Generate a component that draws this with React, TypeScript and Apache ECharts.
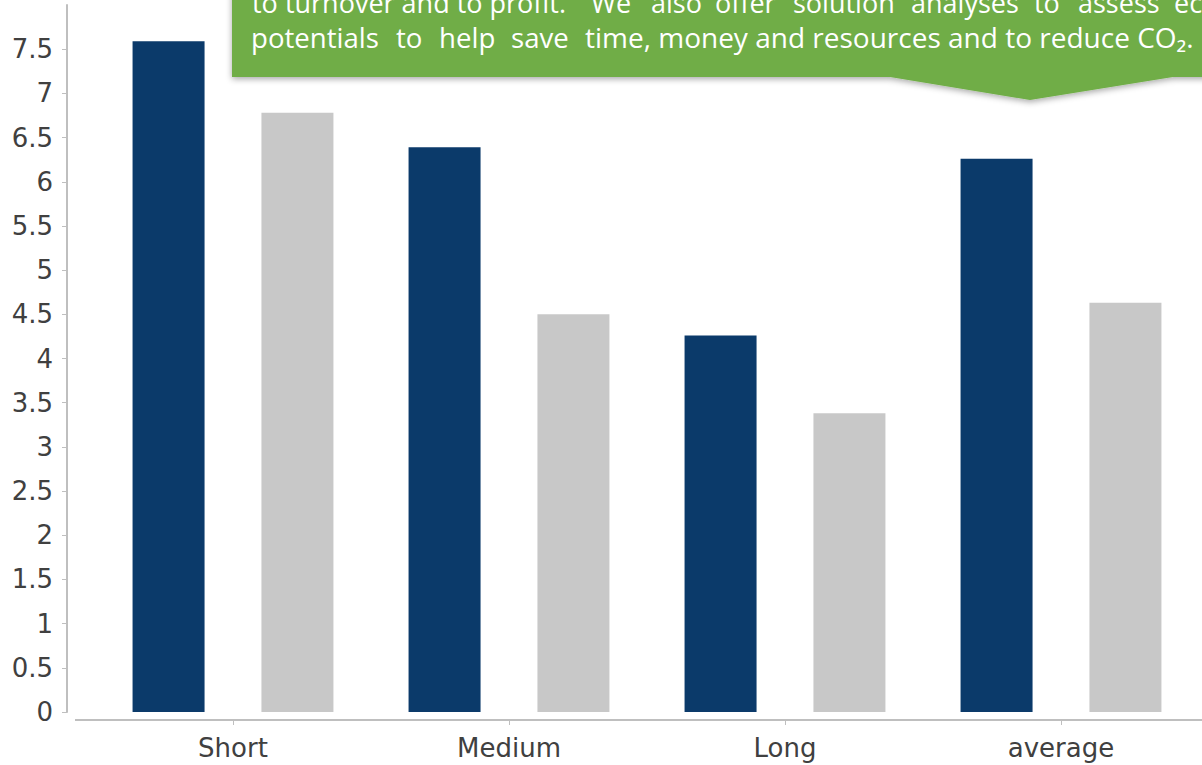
import React, { useEffect, useRef } from "react";
import * as echarts from "echarts";

const categories = ["Short", "Medium", "Long", "average"];
const seriesDark = [7.59, 6.39, 4.26, 6.26];
const seriesGray = [6.78, 4.5, 3.38, 4.63];
const yTicks = [0, 0.5, 1, 1.5, 2, 2.5, 3, 3.5, 4, 4.5, 5, 5.5, 6, 6.5, 7, 7.5];

const line1Words: [string, number][] = [
  ["to turnover and to profit.", 252],
  ["We", 591], ["also", 651], ["offer", 715], ["solution", 793],
  ["analyses", 911], ["to", 1034], ["assess", 1078], ["economic", 1174],
];
const line2Words: [string, number][] = [
  ["potentials", 251], ["to", 396], ["help", 439], ["save", 511],
  ["time, money and resources and to reduce CO₂.", 585],
];

export default function App() {
  const ref = useRef<HTMLDivElement>(null);
  useEffect(() => {
    if (!ref.current) return;
    const chart = echarts.init(ref.current, undefined, { renderer: "svg" });
    const axisColor = "#bfbfbf";
    const labelColor = "#404040";
    const font = "DejaVu Sans";
    const textEls: any[] = [];
    const mk = (words: [string, number][], y: number, size: number) =>
      words.forEach(([t, x], i) =>
        textEls.push({
          type: "text",
          x,
          y,
          z: 102,
          style: {
            text: t,
            fill: "#ffffff",
            fontSize: i === words.length - 1 && words === line2Words ? 28 : size,
            fontFamily: "Open Sans",
            align: "left",
            verticalAlign: "middle",
          },
        })
      );
    mk(line1Words, 2, 27);
    mk(line2Words, 37, 27.6);
    chart.setOption({
      animation: false,
      backgroundColor: "#ffffff",
      grid: { left: 95, right: 3, top: 5, bottom: 53, containLabel: false },
      xAxis: {
        type: "category",
        data: categories,
        offset: 8,
        axisLine: { show: true, onZero: false, lineStyle: { color: axisColor, width: 2 } },
        axisTick: { show: true, alignWithLabel: true, length: 5, lineStyle: { color: axisColor, width: 1 } },
        axisLabel: { fontSize: 26, fontFamily: font, color: labelColor, margin: 15 },
        splitLine: { show: false },
      },
      yAxis: {
        type: "value",
        min: 0,
        max: 8,
        interval: 0.5,
        offset: 28,
        axisLine: { show: true, lineStyle: { color: axisColor, width: 2 } },
        axisTick: { show: true, length: 5, customValues: yTicks, lineStyle: { color: axisColor, width: 1 } },
        axisLabel: { fontSize: 26, fontFamily: font, color: labelColor, margin: 14, customValues: yTicks },
        splitLine: { show: false },
      },
      series: [
        {
          name: "Series 1",
          type: "bar",
          data: seriesDark,
          barWidth: 72,
          barGap: "79%",
          itemStyle: { color: "#0b3a6a" },
        },
        {
          name: "Series 2",
          type: "bar",
          data: seriesGray,
          barWidth: 72,
          itemStyle: { color: "#c8c8c8" },
        },
      ],
      graphic: [
        {
          type: "line",
          z: 50,
          shape: { x1: 75, y1: 720, x2: 96, y2: 720 },
          style: { stroke: axisColor, lineWidth: 2 },
        },
        {
          type: "line",
          z: 50,
          shape: { x1: 1198, y1: 720, x2: 1205, y2: 720 },
          style: { stroke: axisColor, lineWidth: 2 },
        },
        {
          type: "polygon",
          z: 100,
          shape: {
            points: [
              [232, -20], [1220, -20], [1220, 77], [1173, 77], [1030, 100], [890, 77], [232, 77],
            ],
          },
          style: {
            fill: "#70ad47",
            shadowBlur: 6,
            shadowColor: "rgba(0,0,0,0.35)",
            shadowOffsetX: 0,
            shadowOffsetY: 2,
          },
        },
        ...textEls,
      ],
    });
    return () => chart.dispose();
  }, []);
  return (
    <div
      ref={ref}
      style={{ position: "absolute", left: 0, top: 0, width: 1202, height: 765 }}
    />
  );
}
